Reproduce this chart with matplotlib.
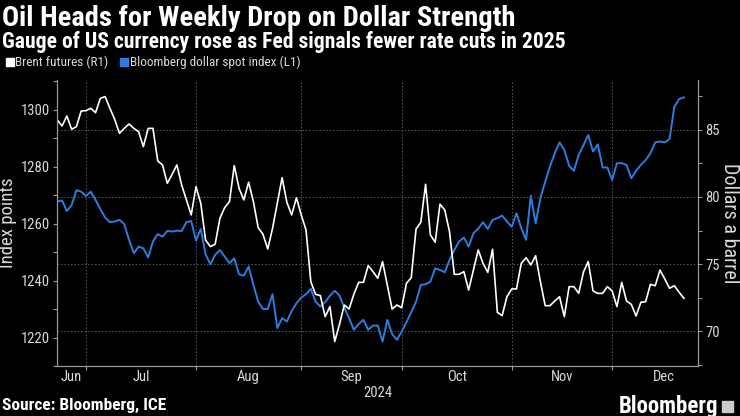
import matplotlib
matplotlib.use("Agg")
import matplotlib.pyplot as plt
from matplotlib import font_manager
from matplotlib.patches import Rectangle

# Business-day index, Jun 21 .. Dec 20 2024
brent = [85.74, 85.30, 86.04, 85.05, 85.25, 86.42, 86.44, 86.62, 86.29, 87.36,
         87.49, 86.62, 85.79, 84.75, 85.12, 85.45, 85.12, 84.87, 83.76, 85.12,
         85.12, 82.69, 82.39, 81.02, 81.69, 82.39, 80.90, 79.78, 78.66, 80.77,
         79.53, 76.79, 76.30, 76.47, 78.41, 79.21, 79.65, 82.34, 80.65, 79.78,
         81.10, 79.65, 77.71, 77.22, 76.12, 77.66, 79.53, 81.44, 79.60, 78.66,
         79.95, 78.66, 77.54, 73.68, 72.74, 72.64, 71.07, 71.82, 69.21, 70.50,
         71.94, 71.64, 72.74, 73.63, 73.63, 74.88, 74.43, 73.93, 75.18, 73.43,
         71.64, 71.94, 71.74, 73.56, 73.98, 77.61, 78.11, 80.95, 77.17, 76.62,
         79.46, 79.03, 77.41, 74.23, 74.23, 74.43, 73.06, 74.55, 76.05, 75.05,
         74.38, 76.10, 71.39, 71.15, 72.56, 73.14, 73.14, 75.05, 75.47, 74.93,
         75.62, 73.68, 71.89, 71.89, 72.24, 72.56, 71.07, 73.31, 73.31, 72.81,
         74.40, 75.18, 72.99, 72.81, 72.81, 73.31, 72.99, 71.82, 73.63, 72.24,
         71.99, 71.12, 72.14, 72.19, 73.48, 73.38, 74.55, 73.88, 73.19, 73.38,
         72.89, 72.44]

dollar = [1267.7, 1268.1, 1264.4, 1266.5, 1271.7, 1271.2, 1269.7, 1271.2, 1268.3, 1265.1,
          1262.1, 1260.5, 1260.7, 1261.3, 1259.8, 1254.3, 1249.6, 1251.9, 1251.3, 1248.1,
          1253.7, 1256.3, 1255.4, 1257.4, 1257.2, 1257.5, 1257.4, 1260.5, 1260.9, 1254.0,
          1258.1, 1249.2, 1245.7, 1249.0, 1250.7, 1248.4, 1246.1, 1247.8, 1242.2, 1241.7,
          1244.9, 1238.5, 1232.6, 1230.0, 1230.0, 1235.2, 1223.3, 1226.8, 1225.6, 1229.3,
          1232.0, 1234.0, 1235.2, 1237.1, 1232.6, 1230.9, 1232.4, 1234.7, 1236.4, 1234.7,
          1230.5, 1226.8, 1222.7, 1224.7, 1226.2, 1222.7, 1224.2, 1224.2, 1218.6, 1226.2,
          1221.2, 1219.2, 1222.1, 1225.4, 1228.9, 1232.6, 1238.5, 1238.7, 1239.6, 1244.3,
          1243.7, 1242.9, 1247.2, 1250.7, 1253.7, 1255.1, 1251.9, 1256.6, 1258.2, 1260.5,
          1258.1, 1261.3, 1261.9, 1262.8, 1260.7, 1258.9, 1263.6, 1258.4, 1254.3, 1269.8,
          1260.1, 1268.9, 1274.7, 1280.0, 1284.7, 1288.5, 1285.8, 1280.3, 1278.5, 1284.1,
          1287.5, 1291.1, 1285.3, 1287.8, 1279.7, 1279.7, 1275.3, 1281.2, 1281.2, 1280.6,
          1275.9, 1278.5, 1280.6, 1282.3, 1284.7, 1288.5, 1288.8, 1288.5, 1289.7, 1301.0,
          1303.7, 1304.3]

months = ["Jun", "Jul", "Aug", "Sep", "Oct", "Nov", "Dec"]
month_starts = [6, 29, 51, 72, 95, 116]          # first business day of Jul..Dec
month_centers = [3, 17.5, 40, 61.5, 83.5, 105.5, 126.8]
year_label = "2024"

BG = "black"
BLUE = "#2b7de0"
TXT = "#d9d9d9"
GRID = "#5a5a5a"
SPINE = "#9a9a9a"

names = {f.name for f in font_manager.fontManager.ttflist}
cond = [f for f in ["Liberation Sans Narrow", "Roboto Condensed", "DejaVu Sans Condensed",
                    "Open Sans Condensed", "Roboto"] if f in names]
plt.rcParams["font.family"] = cond[:1] + ["DejaVu Sans"]

fig = plt.figure(figsize=(7.4, 4.16), dpi=100, facecolor=BG)
ax = fig.add_axes([0.0774, 0.1202, 0.8662, 0.6875], facecolor=BG)
ax2 = ax.twinx()

x = list(range(len(dollar)))
ax.plot(x, dollar, color=BLUE, lw=1.4)
ax2.plot(x, brent, color="white", lw=1.2)

ax.set_xlim(0, 134)
ax.set_ylim(1210.07, 1310.4)
ax2.set_ylim(67.39, 88.73)

ax.set_yticks([1220, 1240, 1260, 1280, 1300])
ax.set_yticks([1210, 1230, 1250, 1270, 1290, 1310], minor=True)
ax2.set_yticks([70, 75, 80, 85])
ax2.set_yticks([67.5, 72.5, 77.5, 82.5, 87.5], minor=True)
ax.set_xticks(month_centers)
ax.set_xticklabels(months)
ax.set_xticks(month_starts, minor=True)

for a in (ax, ax2):
    for s in a.spines.values():
        s.set_color(SPINE)
    a.spines["top"].set_visible(False)
    a.tick_params(colors=SPINE, labelcolor=TXT, labelsize=10.5, length=3, width=0.8)
    a.tick_params(which="minor", colors=SPINE, length=3, width=0.8)
ax.tick_params(axis="x", which="major", length=0, pad=3)
ax.tick_params(axis="x", which="minor", length=3)
ax.tick_params(axis="y", pad=2)
ax2.tick_params(axis="y", pad=2)

ax2.grid(True, axis="y", color=GRID, ls=(0, (1.5, 2)), lw=0.7)
ax.grid(True, axis="x", which="minor", color=GRID, ls=(0, (1.5, 2)), lw=0.7)
ax.set_axisbelow(True)

ax.set_ylabel("Index points", color=TXT, fontsize=13.5, labelpad=3)
ax2.set_ylabel("Dollars a barrel", color=TXT, fontsize=14.5, rotation=270, labelpad=14)
ax.text(67, -0.07, year_label, transform=ax.get_xaxis_transform(), ha="center",
        va="top", color=TXT, fontsize=10.5)

fig.text(0.003, 1 - 18 / 416, "Oil Heads for Weekly Drop on Dollar Strength", color="white",
         fontsize=20.5, fontweight="bold", va="center")
fig.text(0.003, 1 - 42 / 416, "Gauge of US currency rose as Fed signals fewer rate cuts in 2025",
         color="white", fontsize=15.6, fontweight="bold", va="center")

# legend
fig.patches.append(Rectangle((6 / 740, 1 - 66 / 416), 8 / 740, 8 / 416, color="white",
                             transform=fig.transFigure))
fig.text(15 / 740, 1 - 62 / 416, "Brent futures (R1)", color=TXT, fontsize=9.5, va="center")
fig.patches.append(Rectangle((120 / 740, 1 - 66 / 416), 8 / 740, 8 / 416, color=BLUE,
                             transform=fig.transFigure))
fig.text(130 / 740, 1 - 62 / 416, "Bloomberg dollar spot index (L1)", color=TXT,
         fontsize=9.5, va="center")

fig.text(0.003, 1 - 405 / 416, "Source: Bloomberg, ICE", color="white", fontsize=12.5,
         fontweight="bold", va="center")
fig.text(718 / 740, 1 - 406 / 416, "Bloomberg", color="white", fontsize=16.5,
         fontweight="bold", va="center", ha="right")
fig.patches.append(Rectangle((722 / 740, 1 - 412 / 416), 11 / 740, 11 / 416, color="#cccccc",
                             transform=fig.transFigure))

fig.savefig("out.png", dpi=100, facecolor=BG)
